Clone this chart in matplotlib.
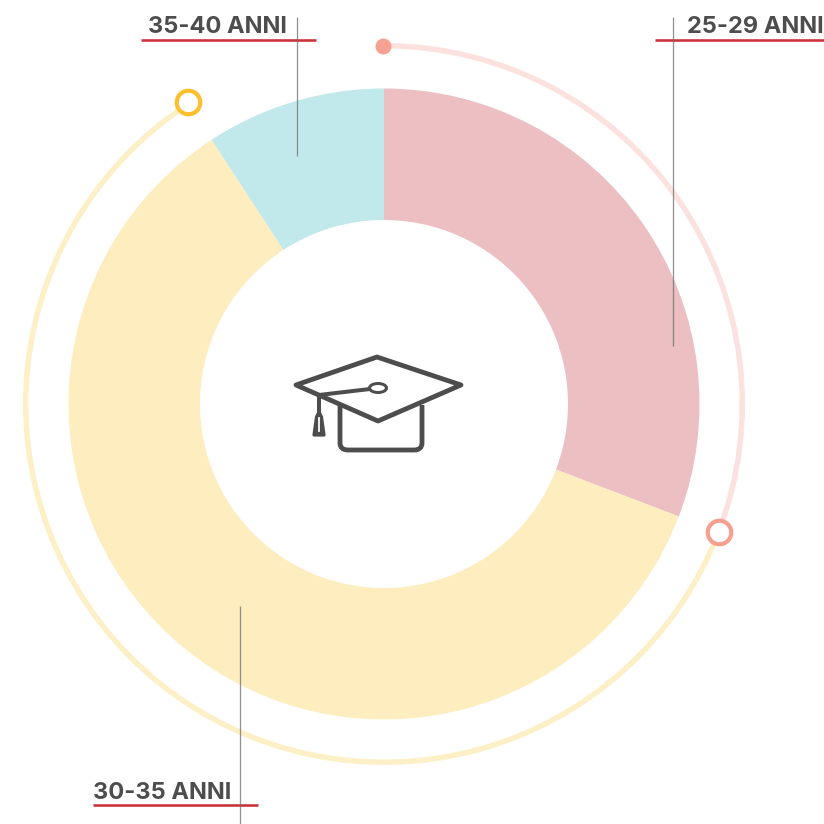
import matplotlib
matplotlib.use('Agg')
import matplotlib.pyplot as plt
from matplotlib.patches import Ellipse, PathPatch, Polygon
from matplotlib.path import Path
import numpy as np

plt.rcParams['font.family'] = ['Inter', 'DejaVu Sans']

### Data
labels = ['25-29 ANNI', '30-35 ANNI', '35-40 ANNI']
values = [30.8, 60, 9.2]
slice_colors = ['#ecbfc2', '#fdedbf', '#c1e8ea']
ring_colors = ['#fce2de', '#fdefc6', 'none']

SIZE = 824
DARK = '#4d4d4d'
RED = '#c9323a'
cx, cy = 384, SIZE - 404

def Y(y):
    # picture pixels count from the top
    return SIZE - y

def ring_point(fraction, radius=358.5):
    angle = 2 * np.pi * fraction
    return cx + radius * np.sin(angle), cy + radius * np.cos(angle)

fig = plt.figure(figsize=(SIZE / 100, SIZE / 100), dpi=100)
ax = fig.add_axes([0, 0, 1, 1])

# Donut
ax.pie(values, colors=slice_colors, center=(cx, cy), radius=315.5, startangle=90,
       counterclock=False, wedgeprops={'width': 131.5, 'linewidth': 0})

# Thin outer ring
ax.pie(values, colors=ring_colors, center=(cx, cy), radius=361, startangle=90,
       counterclock=False, wedgeprops={'width': 5.5, 'linewidth': 0})

ax.set_xlim(0, SIZE)
ax.set_ylim(0, SIZE)
ax.axis('off')

# Ring markers
fractions = np.cumsum(values) / np.sum(values)
px = 0.72  # points per pixel at dpi 100
x0, y0 = ring_point(0)
ax.plot(x0 - 1, y0, 'o', ms=16 * px, color='#f6a292', mew=0, zorder=5)
x1, y1 = ring_point(fractions[0])
ax.plot(x1, y1, 'o', ms=23.5 * px, mfc='white', mec='#f5a08f', mew=4.2 * px, zorder=5)
x2, y2 = ring_point(fractions[1])
ax.plot(x2, y2 + 1.5, 'o', ms=23.5 * px, mfc='white', mec='#fdbf2d', mew=4.2 * px, zorder=5)

# Leader lines, label text, red underline
leaders = [(673.5, 17, 346), (240, 606, 824), (297.5, 17, 156)]
unders = [(655, 824, 40), (93, 258, 805), (141, 316, 40)]
text_x = [687, 93, 148]
text_y = [33, 799, 33]
for name, lead, under, tx, ty in zip(labels, leaders, unders, text_x, text_y):
    ax.plot([lead[0], lead[0]], [Y(lead[1]), Y(lead[2])], color='#6e6e6e', alpha=0.75,
            lw=1.3 * px, solid_capstyle='butt', zorder=6)
    ax.plot([under[0], under[1]], [Y(under[2]), Y(under[2])], color=RED,
            lw=2.6 * px, solid_capstyle='butt', zorder=5)
    ax.text(tx, Y(ty), name, fontsize=17, fontweight='bold', color=DARK,
            ha='left', va='baseline', zorder=7)

# Graduation cap icon
lw = 4.8 * px
body = Path([(340, Y(405)), (340, Y(443)), (340, Y(450)), (348, Y(450)), (414, Y(450)),
             (422, Y(450)), (422, Y(443)), (422, Y(405))],
            [Path.MOVETO, Path.LINETO, Path.CURVE3, Path.CURVE3, Path.LINETO,
             Path.CURVE3, Path.CURVE3, Path.LINETO])
ax.add_patch(PathPatch(body, fc='none', ec=DARK, lw=lw, capstyle='butt', zorder=8))
ax.add_patch(Polygon([(377, Y(357)), (461, Y(385)), (378, Y(421)), (296, Y(385))], closed=True,
                     fc='white', ec=DARK, lw=lw, joinstyle='round', zorder=9))
ax.plot([319, 370], [Y(395), Y(389)], color=DARK, lw=4 * px, zorder=10)
ax.add_patch(Ellipse((378, Y(388)), 17, 9, fc='white', ec=DARK, lw=3 * px, zorder=11))
ax.plot([319, 319], [Y(395), Y(411)], color=DARK, lw=4 * px, zorder=10)
ax.add_patch(Polygon([(319, Y(412)), (321.5, Y(417)), (324, Y(435)), (314, Y(435)), (316.5, Y(417))],
                     closed=True, fc=DARK, ec=DARK, lw=3.2 * px, joinstyle='round', zorder=10))
ax.plot([319, 319], [Y(418), Y(431)], color='white', lw=1.8 * px, zorder=11)

fig.savefig('out.png', dpi=100, facecolor='white')
